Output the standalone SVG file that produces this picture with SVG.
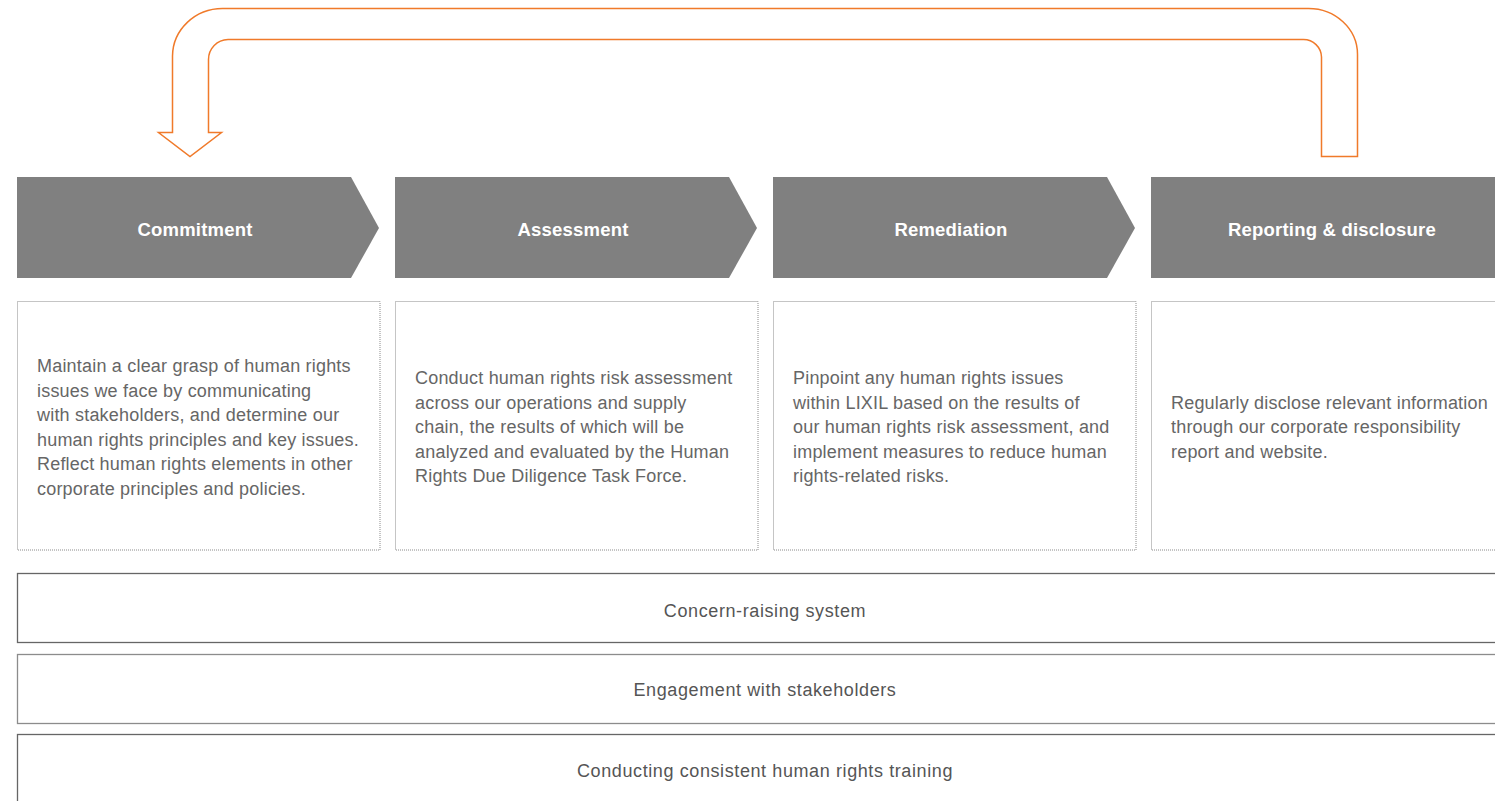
<svg xmlns="http://www.w3.org/2000/svg" width="1495" height="801" viewBox="0 0 1495 801">
<style>
.chev{fill:#808080;}
.ht{font-family:"Liberation Sans",Arial,sans-serif;font-size:18.5px;font-weight:bold;fill:#ffffff;text-anchor:middle;letter-spacing:0.2px;}
.box{fill:#ffffff;stroke:#8a8a8a;stroke-width:1;stroke-dasharray:1 1;}
.dt{font-family:"Liberation Sans",Arial,sans-serif;font-size:18px;fill:#666666;letter-spacing:0.2px;}
.bar{fill:#ffffff;stroke:#666666;stroke-width:1.3;}
.bt{font-family:"Liberation Sans",Arial,sans-serif;font-size:18px;fill:#555555;text-anchor:middle;letter-spacing:0.6px;}
.loop{fill:#ffffff;stroke:#f07a2a;stroke-width:1.5;stroke-linejoin:miter;}
</style>
<g id="connectors">
<path class="loop" d="M158.5,132.5 L172.5,132.5 L172.5,56 A50,48 0 0 1 222.5,8.5 L1308,8.5 A49,46 0 0 1 1357.5,54.5 L1357.5,156.5 L1321.5,156.5 L1321.5,57 A18,18 0 0 0 1303.5,39.5 L228,39.5 A20,20 0 0 0 208.5,59.5 L208.5,132.5 L221.5,132.5 L190,156.5 Z"/>
</g>
<g id="commitment">
<polygon class="chev" points="17,177 351,177 379,228 351,278 17,278"/>
<text class="ht" x="195" y="236">Commitment</text>
</g>
<g id="assessment">
<polygon class="chev" points="395,177 729,177 757,228 729,278 395,278"/>
<text class="ht" x="573" y="236">Assessment</text>
</g>
<g id="remediation">
<polygon class="chev" points="773,177 1107,177 1135,228 1107,278 773,278"/>
<text class="ht" x="951" y="236">Remediation</text>
</g>
<g id="reporting">
<rect class="chev" x="1151" y="177" width="350" height="101"/>
<text class="ht" x="1332" y="236">Reporting &amp; disclosure</text>
</g>
<g id="commitment-desc">
<rect class="box" x="17.5" y="301.5" width="362.5" height="248.5"/>
<text class="dt" x="37" y="372">Maintain a clear grasp of human rights</text>
<text class="dt" x="37" y="396.5">issues we face by communicating</text>
<text class="dt" x="37" y="421">with stakeholders, and determine our</text>
<text class="dt" x="37" y="445.5">human rights principles and key issues.</text>
<text class="dt" x="37" y="470">Reflect human rights elements in other</text>
<text class="dt" x="37" y="494.5">corporate principles and policies.</text>
</g>
<g id="assessment-desc">
<rect class="box" x="395.5" y="301.5" width="362.5" height="248.5"/>
<text class="dt" x="415" y="384">Conduct human rights risk assessment</text>
<text class="dt" x="415" y="408.5">across our operations and supply</text>
<text class="dt" x="415" y="433">chain, the results of which will be</text>
<text class="dt" x="415" y="457.5">analyzed and evaluated by the Human</text>
<text class="dt" x="415" y="482">Rights Due Diligence Task Force.</text>
</g>
<g id="remediation-desc">
<rect class="box" x="773.5" y="301.5" width="362.5" height="248.5"/>
<text class="dt" x="793" y="384">Pinpoint any human rights issues</text>
<text class="dt" x="793" y="408.5">within LIXIL based on the results of</text>
<text class="dt" x="793" y="433">our human rights risk assessment, and</text>
<text class="dt" x="793" y="457.5">implement measures to reduce human</text>
<text class="dt" x="793" y="482">rights-related risks.</text>
</g>
<g id="reporting-desc">
<rect class="box" x="1151.5" y="301.5" width="362.5" height="248.5"/>
<text class="dt" x="1171" y="408.5">Regularly disclose relevant information</text>
<text class="dt" x="1171" y="433">through our corporate responsibility</text>
<text class="dt" x="1171" y="457.5">report and website.</text>
</g>
<g id="concern-raising">
<rect class="bar" x="17.5" y="573.5" width="1490" height="69"/>
<text class="bt" x="765" y="617">Concern-raising system</text>
</g>
<g id="engagement">
<rect class="bar" x="17.5" y="654.5" width="1490" height="69" style="stroke:#8c8c8c"/>
<text class="bt" x="765" y="696">Engagement with stakeholders</text>
</g>
<g id="training">
<rect class="bar" x="17.5" y="734.5" width="1490" height="80"/>
<text class="bt" x="765" y="777">Conducting consistent human rights training</text>
</g>
</svg>
